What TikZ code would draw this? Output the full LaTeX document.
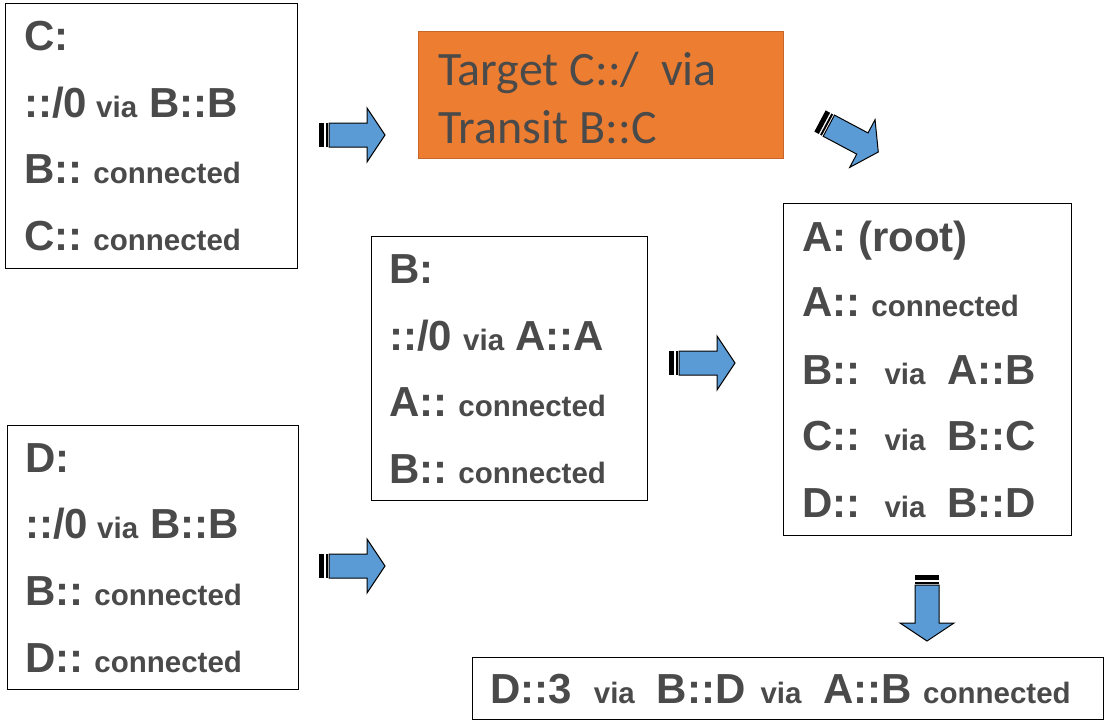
\documentclass[tikz,border=0pt]{standalone}
\usepackage{fontspec}
\setmainfont{Liberation Sans}
\newfontfamily\carl{Carlito}
\definecolor{txtgray}{HTML}{4A4A4A}
\definecolor{arrowblue}{HTML}{5B9BD5}
\definecolor{orangefill}{HTML}{ED7D31}
\definecolor{orangeline}{HTML}{C8662A}
\newcommand{\Lgf}{\fontsize{42}{45}\selectfont\bfseries}
\newcommand{\Smf}{\fontsize{29.5}{32}\selectfont\bfseries}
\newcommand{\Vif}{\fontsize{29.5}{32}\selectfont\bfseries}
\newcommand{\gap}[1]{\hspace*{#1pt}}
\begin{document}
\begin{tikzpicture}[x=1pt,y=-1pt,
  box/.style={draw=black,line width=1.3pt,fill=white,anchor=north west,inner sep=0pt},
  line/.style={anchor=base west,inner sep=0pt,text=txtgray},
  stripearrow/.pic={
    \fill[black] (0,-12) rectangle (5,12);
    \fill[black] (6.5,-12) rectangle (8.5,12);
    \draw[fill=arrowblue,line width=1pt,line join=miter] (10,-12) -- (48,-12) -- (48,-27) -- (66,0) -- (48,27) -- (48,12) -- (10,12) -- cycle;
  }]
\useasboundingbox (0,0) rectangle (1108,721);
% boxes
\node[box,minimum width=292pt,minimum height=265pt] (cbox) at (5,3) {};
\node[box,draw=orangeline,fill=orangefill,minimum width=365pt,minimum height=127pt] (target) at (418,31) {};
\node[box,minimum width=276pt,minimum height=264pt] (bbox) at (371,236) {};
\node[box,minimum width=288pt,minimum height=332pt] (abox) at (783,203) {};
\node[box,minimum width=291pt,minimum height=264pt] (dbox) at (7,425) {};
\node[box,minimum width=631pt,minimum height=62pt] (rbox) at (472,657) {};
% C box
\node[line] (c1) at (24,50) {\Lgf C:};
\node[line] (c2) at (24,117) {\Lgf ::/0\gap{9}\Vif via\gap{12}\Lgf B::B};
\node[line] (c3) at (24,183) {\Lgf B::\Smf{} connected};
\node[line] (c4) at (24,250) {\Lgf C::\Smf{} connected};
% target
\node[line] (t1) at (438,85) {\carl\fontsize{48}{52}\selectfont Target C::/\ \ via};
\node[line] (t2) at (438,143) {\carl\fontsize{48}{52}\selectfont Transit B::C};
% B box
\node[line] (b1) at (389,283) {\Lgf B:};
\node[line] (b2) at (389,350) {\Lgf ::/0\gap{11}\Vif via\gap{11}\Lgf A::A};
\node[line] (b3) at (389,416) {\Lgf A::\Smf{} connected};
\node[line] (b4) at (389,483) {\Lgf B::\Smf{} connected};
% A box
\node[line] (a1) at (802,251) {\Lgf A: (root)};
\node[line] (a2) at (802,316) {\Lgf A::\Smf{} connected};
\node[line] (a3) at (802,384) {\Lgf B::\gap{24}\Vif via\gap{22}\Lgf A::B};
\node[line] (a4) at (802,450) {\Lgf C::\gap{24}\Vif via\gap{22}\Lgf B::C};
\node[line] (a5) at (802,517) {\Lgf D::\gap{24}\Vif via\gap{22}\Lgf B::D};
% D box
\node[line] (d1) at (25,472) {\Lgf D:};
\node[line] (d2) at (25,538) {\Lgf ::/0\gap{9}\Vif via\gap{12}\Lgf B::B};
\node[line] (d3) at (25,605) {\Lgf B::\Smf{} connected};
\node[line] (d4) at (25,672) {\Lgf D::\Smf{} connected};
% result
\node[line] (r1) at (490,703) {\Lgf D::3\gap{22}\Vif via\gap{22}\Lgf B::D\gap{15}\Vif via\gap{22}\Lgf A::B\gap{11}\Smf connected};
% arrows
\pic at (319,135) {stripearrow};
\pic at (669,363) {stripearrow};
\pic at (319,566) {stripearrow};
\pic[rotate=-28] at (820,121) {stripearrow};
\pic[rotate=-90] at (927,575) {stripearrow};
\end{tikzpicture}
\end{document}
